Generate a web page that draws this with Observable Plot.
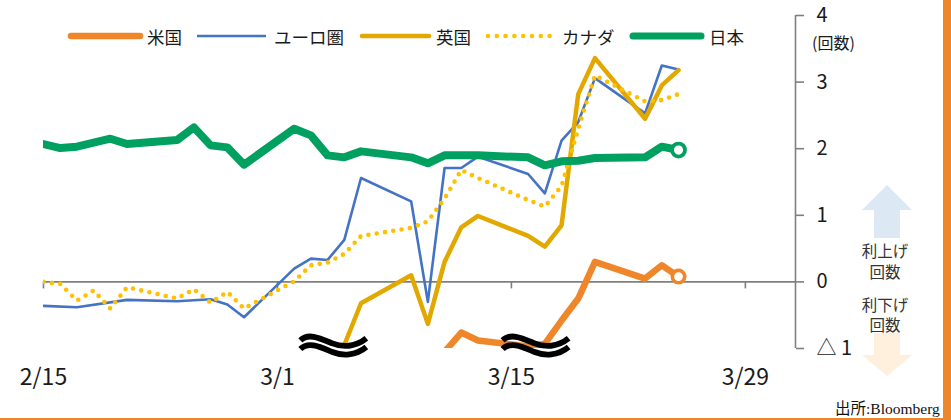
<!DOCTYPE html>
<html lang="ja"><head><meta charset="utf-8">
<script src="https://cdn.jsdelivr.net/npm/d3@7"></script>
<script src="https://cdn.jsdelivr.net/npm/@observablehq/plot@0.6"></script>
<style>
html,body{margin:0;padding:0;background:#fff;}
#wrap{position:relative;width:951px;height:420px;overflow:hidden;background:#fff;font-family:"Noto Sans CJK JP","Noto Sans",sans-serif;color:#1a1a1a;}
#wrap svg{position:absolute;left:0;top:0;}
.edge-r{position:absolute;left:943px;top:0;width:8px;height:420px;background:#F0862A;}
.edge-b{position:absolute;left:0;top:418px;width:951px;height:2px;background:#F0862A;}
</style></head><body><div id="wrap"></div>
<script>
// ---------- data ----------
const year = 2026;
const seriesNames = ["米国", "ユーロ圏", "英国", "カナダ", "日本"];

const usDates = ["03-11","03-12","03-13","03-16","03-17","03-18","03-19","03-20","03-23","03-24","03-25"];
const usValues = [-1.05,-0.76,-0.88,-0.97,-0.93,-0.58,-0.25,0.30,0.05,0.25,0.08];

const euroDates = ["02-15","02-17","02-20","02-23","02-25","02-26","02-27","03-02","03-03","03-04","03-05","03-06","03-09","03-10","03-11","03-12","03-13","03-16","03-17","03-18","03-19","03-20","03-23","03-24","03-25"];
const euroValues = [-0.36,-0.38,-0.27,-0.29,-0.26,-0.34,-0.53,0.20,0.35,0.33,0.63,1.56,1.21,-0.30,1.71,1.71,1.88,1.62,1.33,2.12,2.40,3.06,2.53,3.25,3.19];

const ukDates = ["03-05","03-06","03-09","03-10","03-11","03-12","03-13","03-16","03-17","03-18","03-19","03-20","03-23","03-24","03-25"];
const ukValues = [-0.95,-0.32,0.10,-0.63,0.30,0.82,0.99,0.69,0.53,0.85,2.82,3.36,2.45,2.95,3.18];

const caDates = ["02-15","02-16","02-17","02-18","02-19","02-20","02-23","02-24","02-25","02-26","02-27","03-02","03-03","03-04","03-05","03-06","03-09","03-10","03-11","03-12","03-13","03-16","03-17","03-18","03-19","03-20","03-23","03-24","03-25"];
const caValues = [0.00,-0.03,-0.28,-0.13,-0.40,-0.08,-0.25,-0.11,-0.31,-0.15,-0.40,0.01,0.25,0.29,0.42,0.69,0.81,0.91,1.25,1.68,1.56,1.23,1.13,1.44,2.30,3.10,2.71,2.73,2.82];

const jpDates = ["02-15","02-16","02-17","02-18","02-19","02-20","02-23","02-24","02-25","02-26","02-27","03-02","03-03","03-04","03-05","03-06","03-09","03-10","03-11","03-13","03-16","03-17","03-18","03-19","03-20","03-23","03-24","03-25"];
const jpValues = [2.07,2.01,2.03,2.09,2.15,2.07,2.13,2.32,2.05,2.02,1.76,2.30,2.20,1.90,1.87,1.96,1.87,1.78,1.90,1.90,1.87,1.75,1.81,1.82,1.86,1.87,2.03,1.98];

// axis-break symbols (where a line leaves the bottom of the scale)
const breakDates = ["2026-03-04T09:00Z", "2026-03-16T11:30Z"];
const breakValues = [-0.98, -0.98];

const xTickDates = ["02-15","03-01","03-15","03-29"];
const xDomainDates = ["02-15","04-01"];
const yTicks = [-1, 0, 1, 2, 3, 4];
const yDomain = [-1, 4];
const yUnitLabel = "(回数)";
const hikeLabel = ["利上げ", "回数"];
const cutLabel = ["利下げ", "回数"];
const sourceLabel = "出所:Bloomberg";

// ---------- styles ----------
const C = {us:"#F0862A", euro:"#4472C4", uk:"#E2A800", ca:"#FFC000", jp:"#00A060"};
const GRAY = "#7f7f7f";

const parse = s => new Date(`${year}-${s}T00:00:00Z`);
const rows = (ds, vs) => ds.map((d, i) => ({date: parse(d), value: vs[i]}));
const us = rows(usDates, usValues);
const euro = rows(euroDates, euroValues);
const uk = rows(ukDates, ukValues);
const ca = rows(caDates, caValues);
const jp = rows(jpDates, jpValues);
const breaks = breakDates.map((d, i) => ({date: new Date(d), value: breakValues[i]}));
const xTicks = xTickDates.map(parse);
const fmtDate = d => `${d.getUTCMonth() + 1}/${d.getUTCDate()}`;

const wave = "M-33,-2 C-25,-10 -13,-4 -1,1 C9,5 22,5 33,-4";
function breakMark(index, scales) {
  const g = d3.create("svg:g");
  for (const b of breaks) {
    const cx = scales.x(b.date), cy = scales.y(b.value);
    for (const off of [-4.3, 4.3]) {
      g.append("path").attr("d", wave)
        .attr("transform", `translate(${cx},${cy + off})`)
        .attr("fill", "none").attr("stroke", "#000").attr("stroke-width", 5.8);
    }
  }
  return g.node();
}

const plot = Plot.plot({
  width: 951, height: 420,
  marginTop: 15, marginBottom: 72, marginLeft: 43, marginRight: 156,
  style: {fontFamily: '"Noto Sans CJK JP", sans-serif', background: "transparent", color: "#1a1a1a", overflow: "visible"},
  x: {type: "utc", domain: xDomainDates.map(parse)},
  y: {domain: yDomain},
  marks: [
    Plot.ruleY([0], {stroke: GRAY, strokeWidth: 1.6}),
    Plot.ruleX(xTicks, {x: d => d, y1: 0, y2: 0, insetBottom: -7, stroke: GRAY, strokeWidth: 1.6}),
    Plot.axisX(xTicks, {anchor: "bottom", tickSize: 0, tickPadding: 20, tickFormat: fmtDate, fontSize: 23, fill: "#1a1a1a", label: null}),
    Plot.ruleX([parse(xDomainDates[1])], {stroke: GRAY, strokeWidth: 1.6}),
    Plot.axisY(yTicks, {anchor: "right", tickSize: 8, tickPadding: 13, tickFormat: d => d < 0 ? `△ ${-d}` : `${d}`, fontSize: 20, stroke: GRAY, strokeWidth: 1.6, fill: "#1a1a1a", label: null}),
    Plot.line(us, {x: "date", y: "value", stroke: C.us, strokeWidth: 6.5, strokeLinejoin: "round", clip: true}),
    Plot.line(euro, {x: "date", y: "value", stroke: C.euro, strokeWidth: 2.6, clip: true}),
    Plot.line(uk, {x: "date", y: "value", stroke: C.uk, strokeWidth: 4.5, clip: true}),
    Plot.line(ca, {x: "date", y: "value", stroke: C.ca, strokeWidth: 4.6, strokeDasharray: "0 8.4", strokeLinecap: "round", clip: true}),
    Plot.line(jp, {x: "date", y: "value", stroke: C.jp, strokeWidth: 8, strokeLinejoin: "round", clip: true}),
    breakMark,
    Plot.dot([us[us.length - 1]], {x: "date", y: "value", r: 6.2, fill: "#fff", stroke: C.us, strokeWidth: 3.6}),
    Plot.dot([jp[jp.length - 1]], {x: "date", y: "value", r: 6.5, fill: "#fff", stroke: C.jp, strokeWidth: 3.8})
  ]
});

const wrap = document.getElementById("wrap");
wrap.appendChild(plot);

// ---------- overlay: legend, unit, arrows, source ----------
const ov = d3.select(wrap).append("svg")
  .attr("width", 951).attr("height", 420)
  .style("font-family", '"Noto Sans CJK JP", sans-serif');

const legend = [
  {name: seriesNames[0], c: C.us, w: 6.5, x1: 71, x2: 140, tx: 147, cap: "round"},
  {name: seriesNames[1], c: C.euro, w: 2.6, x1: 197, x2: 266, tx: 274, cap: "butt"},
  {name: seriesNames[2], c: C.uk, w: 4.5, x1: 362, x2: 429, tx: 436, cap: "round"},
  {name: seriesNames[3], c: C.ca, w: 4.6, x1: 488, x2: 552, tx: 562, cap: "round", dash: "0 8.8"},
  {name: seriesNames[4], c: C.jp, w: 7, x1: 633, x2: 701, tx: 709, cap: "round"}
];
for (const l of legend) {
  ov.append("line").attr("x1", l.x1).attr("x2", l.x2).attr("y1", 36).attr("y2", 36)
    .attr("stroke", l.c).attr("stroke-width", l.w).attr("stroke-linecap", l.cap)
    .attr("stroke-dasharray", l.dash || null);
  ov.append("text").attr("x", l.tx).attr("y", 36).attr("dominant-baseline", "central")
    .attr("font-size", 17.5).attr("fill", "#1a1a1a").text(l.name);
}
ov.append("text").attr("x", 812).attr("y", 42).attr("dominant-baseline", "central")
  .attr("font-size", 16).attr("fill", "#1a1a1a").text(yUnitLabel);

ov.append("polygon").attr("points", "887,185 912,210 900,210 900,238 874,238 874,210 862,210").attr("fill", "#DDE8F5");
ov.append("polygon").attr("points", "874,333 900,333 900,355 912,355 887,376 862,355 874,355").attr("fill", "#FEF0DD");
hikeLabel.forEach((t, i) => ov.append("text").attr("x", 885).attr("y", 250 + i * 21).attr("text-anchor", "middle")
  .attr("dominant-baseline", "central").attr("font-size", 15.5).attr("fill", "#333").text(t));
cutLabel.forEach((t, i) => ov.append("text").attr("x", 885).attr("y", 304 + i * 20).attr("text-anchor", "middle")
  .attr("dominant-baseline", "central").attr("font-size", 15.5).attr("fill", "#333").text(t));

ov.append("text").attr("x", 835).attr("y", 414).attr("font-size", 15.5)
  .attr("font-family", '"Liberation Serif", "Noto Sans CJK JP", serif').attr("fill", "#111").text(sourceLabel);

const er = document.createElement("div"); er.className = "edge-r"; wrap.appendChild(er);
const eb = document.createElement("div"); eb.className = "edge-b"; wrap.appendChild(eb);
</script></body></html>
